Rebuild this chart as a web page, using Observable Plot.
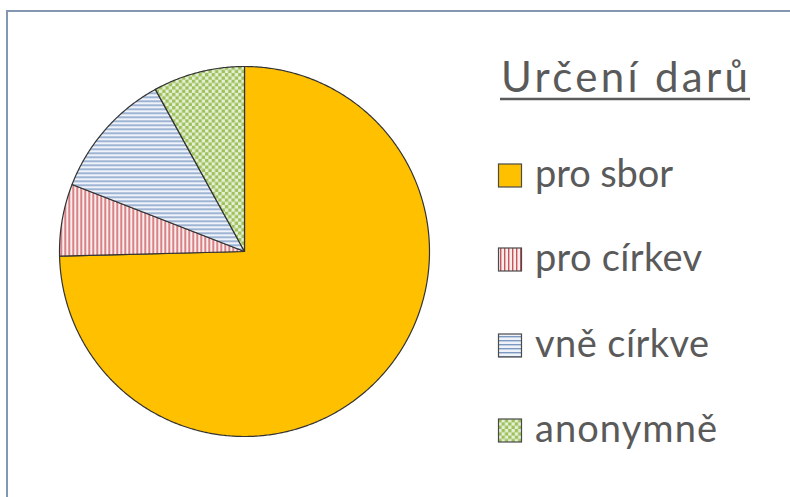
<!DOCTYPE html>
<html><head><meta charset="utf-8">
<script src="https://cdn.jsdelivr.net/npm/d3@7"></script>
<script src="https://cdn.jsdelivr.net/npm/@observablehq/plot@0.6"></script>
<style>
body{margin:0;background:#fff;width:790px;height:497px;overflow:hidden;position:relative;font-family:Lato,"Open Sans",sans-serif;}
#frame{position:absolute;left:6px;top:10px;width:800px;height:500px;border-left:2px solid #8397b0;border-top:2px solid #8397b0;box-sizing:border-box;}
#chart{position:absolute;left:0;top:0;}
#legend{position:absolute;left:0;top:0;}
</style></head><body>
<div id="frame"></div>
<div id="chart"></div>
<svg id="legend" width="790" height="497"></svg>
<script>
// Data
const title = "Určení darů";
const categories = ["pro sbor", "pro církev", "vně církve", "anonymně"];
const values = [74.6, 6.3, 11.1, 8.0];
const patternIds = ["p-orange", "p-red", "p-blue", "p-green"];

// Pattern definitions (styles)
const legendSvg = d3.select("#legend");
const defs = legendSvg.append("defs");
const po = defs.append("pattern").attr("id","p-orange").attr("patternUnits","userSpaceOnUse").attr("width",4).attr("height",4);
po.append("rect").attr("width",4).attr("height",4).attr("fill","#FFC000");
const pr = defs.append("pattern").attr("id","p-red").attr("patternUnits","userSpaceOnUse").attr("width",4).attr("height",4);
pr.append("rect").attr("width",4).attr("height",4).attr("fill","#fcecec");
pr.append("rect").attr("x",0).attr("width",1.4).attr("height",4).attr("fill","#c5555c");
const pb = defs.append("pattern").attr("id","p-blue").attr("patternUnits","userSpaceOnUse").attr("width",4).attr("height",4);
pb.append("rect").attr("width",4).attr("height",4).attr("fill","#eef3fa");
pb.append("rect").attr("y",0).attr("width",4).attr("height",1.4).attr("fill","#7d99c2");
const pg = defs.append("pattern").attr("id","p-green").attr("patternUnits","userSpaceOnUse").attr("width",6.6).attr("height",6.6);
pg.append("rect").attr("width",6.6).attr("height",6.6).attr("fill","#e6f0d6");
pg.append("rect").attr("width",3.3).attr("height",3.3).attr("fill","#9cc05a");
pg.append("rect").attr("x",3.3).attr("y",3.3).attr("width",3.3).attr("height",3.3).attr("fill","#9cc05a");

// Pie geometry from values
const total = d3.sum(values);
let acc = 0;
const slices = categories.map((c, i) => {
  const a0 = acc / total * 2 * Math.PI;
  acc += values[i];
  const a1 = acc / total * 2 * Math.PI;
  const pts = [{x: 0, y: 0}];
  const n = Math.max(2, Math.ceil((a1 - a0) / (Math.PI / 360)));
  for (let k = 0; k <= n; k++) {
    const a = a0 + (a1 - a0) * k / n;
    pts.push({x: Math.sin(a), y: Math.cos(a)});
  }
  return {category: c, fill: `url(#${patternIds[i]})`, pts};
});

const plot = Plot.plot({
  width: 790, height: 497,
  marginLeft: 59, marginRight: 361, marginTop: 66, marginBottom: 61,
  x: {domain: [-1, 1], axis: null},
  y: {domain: [-1, 1], axis: null},
  style: {background: "transparent", overflow: "visible"},
  marks: slices.map(s => Plot.line(s.pts, {x: "x", y: "y", curve: "linear-closed", fill: s.fill, stroke: "#333", strokeWidth: 1.2}))
});
document.getElementById("chart").append(plot);

// Legend
const textColor = "#5a5a5a";
legendSvg.append("text").attr("x", 501).attr("y", 92).attr("font-size", 42)
  .attr("textLength", 247).attr("lengthAdjust", "spacing")
  .attr("fill", textColor).attr("font-family", "Lato, sans-serif").text(title);
legendSvg.append("line").attr("x1", 500).attr("x2", 750).attr("y1", 99).attr("y2", 99)
  .attr("stroke", textColor).attr("stroke-width", 2.4);
const baselines = [187, 271, 357, 442];
const textWidths = [138, 167, 174, 182];
categories.forEach((c, i) => {
  legendSvg.append("rect").attr("x", 498.5).attr("y", baselines[i] - 23).attr("width", 23).attr("height", 23)
    .attr("fill", `url(#${patternIds[i]})`).attr("stroke", "#4a4a4a").attr("stroke-width", 1.2);
  legendSvg.append("text").attr("x", 535).attr("y", baselines[i]).attr("font-size", 38)
    .attr("textLength", textWidths[i]).attr("lengthAdjust", "spacing")
    .attr("fill", textColor).attr("font-family", "Lato, sans-serif").text(c);
});
</script></body></html>
